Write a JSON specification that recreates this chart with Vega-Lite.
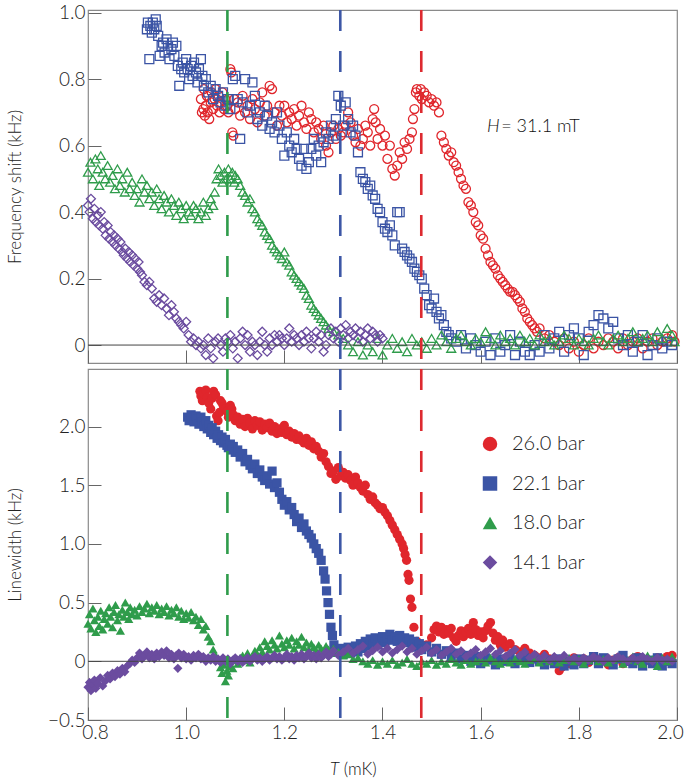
{
"$schema": "https://vega.github.io/schema/vega-lite/v6.json",
"padding": {"left": 5, "top": 3, "right": 2, "bottom": 2},
"background": "white",
"config": {
  "view": {"stroke": "#8a8a8a", "strokeWidth": 1.2},
  "font": "Lato",
  "axis": {"labelFont": "Lato", "titleFont": "Lato", "labelFontSize": 19, "titleFontSize": 17, "labelColor": "#222", "titleColor": "#222", "titleFontWeight": 300, "labelFontWeight": 300, "tickColor": "#666", "tickWidth": 1, "tickSize": -13, "domain": false, "grid": false, "labelPadding": 16},
  "legend": {"labelFont": "Lato"}
},
"spacing": 0,
"resolve": {"legend": {"color": "independent", "shape": "independent"}},
"datasets": {
"freq": [
{"s":"26.0 bar","T":1.030,"v":0.74},{"s":"26.0 bar","T":1.032,"v":0.70},{"s":"26.0 bar","T":1.035,"v":0.71},{"s":"26.0 bar","T":1.036,"v":0.77},{"s":"26.0 bar","T":1.038,"v":0.69},{"s":"26.0 bar","T":1.040,"v":0.72},{"s":"26.0 bar","T":1.042,"v":0.75},{"s":"26.0 bar","T":1.044,"v":0.70},{"s":"26.0 bar","T":1.047,"v":0.68},{"s":"26.0 bar","T":1.050,"v":0.73},{"s":"26.0 bar","T":1.052,"v":0.76},{"s":"26.0 bar","T":1.055,"v":0.71},{"s":"26.0 bar","T":1.058,"v":0.74},{"s":"26.0 bar","T":1.060,"v":0.77},{"s":"26.0 bar","T":1.063,"v":0.72},{"s":"26.0 bar","T":1.066,"v":0.75},{"s":"26.0 bar","T":1.068,"v":0.70},{"s":"26.0 bar","T":1.070,"v":0.73},{"s":"26.0 bar","T":1.074,"v":0.76},{"s":"26.0 bar","T":1.077,"v":0.71},{"s":"26.0 bar","T":1.080,"v":0.74},{"s":"26.0 bar","T":1.083,"v":0.72},{"s":"26.0 bar","T":1.086,"v":0.70},{"s":"26.0 bar","T":1.090,"v":0.83},{"s":"26.0 bar","T":1.092,"v":0.82},{"s":"26.0 bar","T":1.094,"v":0.64},{"s":"26.0 bar","T":1.096,"v":0.63},{"s":"26.0 bar","T":1.098,"v":0.74},{"s":"26.0 bar","T":1.100,"v":0.71},{"s":"26.0 bar","T":1.105,"v":0.73},{"s":"26.0 bar","T":1.110,"v":0.69},{"s":"26.0 bar","T":1.115,"v":0.75},{"s":"26.0 bar","T":1.120,"v":0.70},{"s":"26.0 bar","T":1.125,"v":0.72},{"s":"26.0 bar","T":1.130,"v":0.68},{"s":"26.0 bar","T":1.135,"v":0.74},{"s":"26.0 bar","T":1.140,"v":0.71},{"s":"26.0 bar","T":1.145,"v":0.67},{"s":"26.0 bar","T":1.150,"v":0.73},{"s":"26.0 bar","T":1.155,"v":0.76},{"s":"26.0 bar","T":1.160,"v":0.69},{"s":"26.0 bar","T":1.165,"v":0.72},{"s":"26.0 bar","T":1.170,"v":0.78},{"s":"26.0 bar","T":1.175,"v":0.77},{"s":"26.0 bar","T":1.180,"v":0.70},{"s":"26.0 bar","T":1.185,"v":0.66},{"s":"26.0 bar","T":1.190,"v":0.72},{"s":"26.0 bar","T":1.195,"v":0.69},{"s":"26.0 bar","T":1.200,"v":0.72},{"s":"26.0 bar","T":1.205,"v":0.67},{"s":"26.0 bar","T":1.210,"v":0.70},{"s":"26.0 bar","T":1.215,"v":0.68},{"s":"26.0 bar","T":1.220,"v":0.71},{"s":"26.0 bar","T":1.225,"v":0.66},{"s":"26.0 bar","T":1.230,"v":0.69},{"s":"26.0 bar","T":1.235,"v":0.72},{"s":"26.0 bar","T":1.240,"v":0.67},{"s":"26.0 bar","T":1.245,"v":0.65},{"s":"26.0 bar","T":1.250,"v":0.70},{"s":"26.0 bar","T":1.255,"v":0.68},{"s":"26.0 bar","T":1.260,"v":0.64},{"s":"26.0 bar","T":1.265,"v":0.67},{"s":"26.0 bar","T":1.270,"v":0.65},{"s":"26.0 bar","T":1.275,"v":0.62},{"s":"26.0 bar","T":1.280,"v":0.66},{"s":"26.0 bar","T":1.285,"v":0.60},{"s":"26.0 bar","T":1.290,"v":0.58},{"s":"26.0 bar","T":1.295,"v":0.64},{"s":"26.0 bar","T":1.300,"v":0.66},{"s":"26.0 bar","T":1.305,"v":0.62},{"s":"26.0 bar","T":1.310,"v":0.65},{"s":"26.0 bar","T":1.315,"v":0.63},{"s":"26.0 bar","T":1.320,"v":0.64},{"s":"26.0 bar","T":1.325,"v":0.66},{"s":"26.0 bar","T":1.330,"v":0.70},{"s":"26.0 bar","T":1.335,"v":0.67},{"s":"26.0 bar","T":1.340,"v":0.63},{"s":"26.0 bar","T":1.345,"v":0.61},{"s":"26.0 bar","T":1.350,"v":0.65},{"s":"26.0 bar","T":1.355,"v":0.60},{"s":"26.0 bar","T":1.360,"v":0.62},{"s":"26.0 bar","T":1.365,"v":0.66},{"s":"26.0 bar","T":1.370,"v":0.64},{"s":"26.0 bar","T":1.375,"v":0.60},{"s":"26.0 bar","T":1.380,"v":0.68},{"s":"26.0 bar","T":1.383,"v":0.71},{"s":"26.0 bar","T":1.386,"v":0.67},{"s":"26.0 bar","T":1.390,"v":0.62},{"s":"26.0 bar","T":1.395,"v":0.65},{"s":"26.0 bar","T":1.400,"v":0.60},{"s":"26.0 bar","T":1.405,"v":0.63},{"s":"26.0 bar","T":1.410,"v":0.56},{"s":"26.0 bar","T":1.415,"v":0.60},{"s":"26.0 bar","T":1.420,"v":0.53},{"s":"26.0 bar","T":1.425,"v":0.51},{"s":"26.0 bar","T":1.430,"v":0.54},{"s":"26.0 bar","T":1.435,"v":0.58},{"s":"26.0 bar","T":1.440,"v":0.56},{"s":"26.0 bar","T":1.445,"v":0.61},{"s":"26.0 bar","T":1.450,"v":0.59},{"s":"26.0 bar","T":1.455,"v":0.62},{"s":"26.0 bar","T":1.460,"v":0.64},{"s":"26.0 bar","T":1.462,"v":0.68},{"s":"26.0 bar","T":1.465,"v":0.71},{"s":"26.0 bar","T":1.468,"v":0.76},{"s":"26.0 bar","T":1.470,"v":0.77},{"s":"26.0 bar","T":1.475,"v":0.75},{"s":"26.0 bar","T":1.478,"v":0.77},{"s":"26.0 bar","T":1.480,"v":0.74},{"s":"26.0 bar","T":1.485,"v":0.76},{"s":"26.0 bar","T":1.490,"v":0.75},{"s":"26.0 bar","T":1.495,"v":0.73},{"s":"26.0 bar","T":1.500,"v":0.74},{"s":"26.0 bar","T":1.505,"v":0.72},{"s":"26.0 bar","T":1.510,"v":0.73},{"s":"26.0 bar","T":1.515,"v":0.70},{"s":"26.0 bar","T":1.520,"v":0.63},{"s":"26.0 bar","T":1.525,"v":0.61},{"s":"26.0 bar","T":1.530,"v":0.59},{"s":"26.0 bar","T":1.535,"v":0.57},{"s":"26.0 bar","T":1.540,"v":0.58},{"s":"26.0 bar","T":1.545,"v":0.55},{"s":"26.0 bar","T":1.550,"v":0.54},{"s":"26.0 bar","T":1.555,"v":0.52},{"s":"26.0 bar","T":1.560,"v":0.50},{"s":"26.0 bar","T":1.565,"v":0.48},{"s":"26.0 bar","T":1.570,"v":0.47},{"s":"26.0 bar","T":1.575,"v":0.43},{"s":"26.0 bar","T":1.580,"v":0.42},{"s":"26.0 bar","T":1.585,"v":0.40},{"s":"26.0 bar","T":1.590,"v":0.37},{"s":"26.0 bar","T":1.595,"v":0.36},{"s":"26.0 bar","T":1.600,"v":0.33},{"s":"26.0 bar","T":1.605,"v":0.32},{"s":"26.0 bar","T":1.610,"v":0.29},{"s":"26.0 bar","T":1.615,"v":0.27},{"s":"26.0 bar","T":1.620,"v":0.25},{"s":"26.0 bar","T":1.625,"v":0.24},{"s":"26.0 bar","T":1.630,"v":0.23},{"s":"26.0 bar","T":1.635,"v":0.21},{"s":"26.0 bar","T":1.640,"v":0.20},{"s":"26.0 bar","T":1.645,"v":0.19},{"s":"26.0 bar","T":1.650,"v":0.18},{"s":"26.0 bar","T":1.655,"v":0.17},{"s":"26.0 bar","T":1.660,"v":0.16},{"s":"26.0 bar","T":1.665,"v":0.16},{"s":"26.0 bar","T":1.670,"v":0.15},{"s":"26.0 bar","T":1.675,"v":0.14},{"s":"26.0 bar","T":1.680,"v":0.13},{"s":"26.0 bar","T":1.685,"v":0.11},{"s":"26.0 bar","T":1.690,"v":0.10},{"s":"26.0 bar","T":1.695,"v":0.08},{"s":"26.0 bar","T":1.700,"v":0.07},{"s":"26.0 bar","T":1.705,"v":0.06},{"s":"26.0 bar","T":1.710,"v":0.05},{"s":"26.0 bar","T":1.715,"v":0.04},{"s":"26.0 bar","T":1.720,"v":0.05},{"s":"26.0 bar","T":1.730,"v":0.02},{"s":"26.0 bar","T":1.740,"v":0.03},{"s":"26.0 bar","T":1.750,"v":0.01},{"s":"26.0 bar","T":1.760,"v":0.00},{"s":"26.0 bar","T":1.770,"v":0.02},{"s":"26.0 bar","T":1.780,"v":-0.01},{"s":"26.0 bar","T":1.790,"v":0.01},{"s":"26.0 bar","T":1.800,"v":-0.02},{"s":"26.0 bar","T":1.810,"v":0.00},{"s":"26.0 bar","T":1.820,"v":0.02},{"s":"26.0 bar","T":1.830,"v":-0.01},{"s":"26.0 bar","T":1.840,"v":0.01},{"s":"26.0 bar","T":1.850,"v":0.00},{"s":"26.0 bar","T":1.860,"v":0.02},{"s":"26.0 bar","T":1.870,"v":0.01},{"s":"26.0 bar","T":1.880,"v":-0.01},{"s":"26.0 bar","T":1.890,"v":0.02},{"s":"26.0 bar","T":1.900,"v":0.00},{"s":"26.0 bar","T":1.910,"v":0.01},{"s":"26.0 bar","T":1.920,"v":0.02},{"s":"26.0 bar","T":1.930,"v":-0.01},{"s":"26.0 bar","T":1.940,"v":0.01},{"s":"26.0 bar","T":1.950,"v":0.02},{"s":"26.0 bar","T":1.960,"v":0.00},{"s":"26.0 bar","T":1.970,"v":0.01},{"s":"26.0 bar","T":1.980,"v":0.02},{"s":"26.0 bar","T":1.990,"v":0.03},{"s":"26.0 bar","T":1.995,"v":0.01},
{"s":"22.1 bar","T":0.920,"v":0.95},{"s":"22.1 bar","T":0.922,"v":0.97},{"s":"22.1 bar","T":0.925,"v":0.86},{"s":"22.1 bar","T":0.927,"v":0.96},{"s":"22.1 bar","T":0.930,"v":0.94},{"s":"22.1 bar","T":0.932,"v":0.97},{"s":"22.1 bar","T":0.935,"v":0.95},{"s":"22.1 bar","T":0.938,"v":0.98},{"s":"22.1 bar","T":0.940,"v":0.96},{"s":"22.1 bar","T":0.943,"v":0.93},{"s":"22.1 bar","T":0.946,"v":0.87},{"s":"22.1 bar","T":0.950,"v":0.90},{"s":"22.1 bar","T":0.953,"v":0.91},{"s":"22.1 bar","T":0.956,"v":0.88},{"s":"22.1 bar","T":0.960,"v":0.92},{"s":"22.1 bar","T":0.963,"v":0.90},{"s":"22.1 bar","T":0.966,"v":0.86},{"s":"22.1 bar","T":0.970,"v":0.89},{"s":"22.1 bar","T":0.973,"v":0.91},{"s":"22.1 bar","T":0.976,"v":0.87},{"s":"22.1 bar","T":0.980,"v":0.90},{"s":"22.1 bar","T":0.983,"v":0.84},{"s":"22.1 bar","T":0.986,"v":0.78},{"s":"22.1 bar","T":0.990,"v":0.83},{"s":"22.1 bar","T":0.993,"v":0.85},{"s":"22.1 bar","T":0.996,"v":0.82},{"s":"22.1 bar","T":1.000,"v":0.86},{"s":"22.1 bar","T":1.003,"v":0.83},{"s":"22.1 bar","T":1.006,"v":0.80},{"s":"22.1 bar","T":1.010,"v":0.84},{"s":"22.1 bar","T":1.013,"v":0.81},{"s":"22.1 bar","T":1.016,"v":0.85},{"s":"22.1 bar","T":1.020,"v":0.82},{"s":"22.1 bar","T":1.023,"v":0.79},{"s":"22.1 bar","T":1.026,"v":0.83},{"s":"22.1 bar","T":1.030,"v":0.86},{"s":"22.1 bar","T":1.033,"v":0.81},{"s":"22.1 bar","T":1.036,"v":0.78},{"s":"22.1 bar","T":1.040,"v":0.80},{"s":"22.1 bar","T":1.045,"v":0.76},{"s":"22.1 bar","T":1.050,"v":0.78},{"s":"22.1 bar","T":1.055,"v":0.74},{"s":"22.1 bar","T":1.060,"v":0.77},{"s":"22.1 bar","T":1.065,"v":0.75},{"s":"22.1 bar","T":1.070,"v":0.73},{"s":"22.1 bar","T":1.075,"v":0.76},{"s":"22.1 bar","T":1.080,"v":0.72},{"s":"22.1 bar","T":1.085,"v":0.74},{"s":"22.1 bar","T":1.090,"v":0.71},{"s":"22.1 bar","T":1.095,"v":0.80},{"s":"22.1 bar","T":1.100,"v":0.81},{"s":"22.1 bar","T":1.105,"v":0.74},{"s":"22.1 bar","T":1.110,"v":0.62},{"s":"22.1 bar","T":1.115,"v":0.73},{"s":"22.1 bar","T":1.120,"v":0.80},{"s":"22.1 bar","T":1.125,"v":0.70},{"s":"22.1 bar","T":1.130,"v":0.72},{"s":"22.1 bar","T":1.135,"v":0.79},{"s":"22.1 bar","T":1.140,"v":0.75},{"s":"22.1 bar","T":1.145,"v":0.68},{"s":"22.1 bar","T":1.150,"v":0.70},{"s":"22.1 bar","T":1.155,"v":0.66},{"s":"22.1 bar","T":1.160,"v":0.72},{"s":"22.1 bar","T":1.165,"v":0.69},{"s":"22.1 bar","T":1.170,"v":0.65},{"s":"22.1 bar","T":1.175,"v":0.67},{"s":"22.1 bar","T":1.180,"v":0.64},{"s":"22.1 bar","T":1.185,"v":0.70},{"s":"22.1 bar","T":1.190,"v":0.66},{"s":"22.1 bar","T":1.195,"v":0.62},{"s":"22.1 bar","T":1.200,"v":0.57},{"s":"22.1 bar","T":1.205,"v":0.64},{"s":"22.1 bar","T":1.210,"v":0.60},{"s":"22.1 bar","T":1.215,"v":0.58},{"s":"22.1 bar","T":1.220,"v":0.62},{"s":"22.1 bar","T":1.225,"v":0.59},{"s":"22.1 bar","T":1.230,"v":0.56},{"s":"22.1 bar","T":1.235,"v":0.54},{"s":"22.1 bar","T":1.240,"v":0.59},{"s":"22.1 bar","T":1.245,"v":0.53},{"s":"22.1 bar","T":1.250,"v":0.55},{"s":"22.1 bar","T":1.255,"v":0.59},{"s":"22.1 bar","T":1.260,"v":0.62},{"s":"22.1 bar","T":1.265,"v":0.57},{"s":"22.1 bar","T":1.270,"v":0.60},{"s":"22.1 bar","T":1.275,"v":0.55},{"s":"22.1 bar","T":1.280,"v":0.61},{"s":"22.1 bar","T":1.285,"v":0.64},{"s":"22.1 bar","T":1.290,"v":0.62},{"s":"22.1 bar","T":1.295,"v":0.66},{"s":"22.1 bar","T":1.300,"v":0.63},{"s":"22.1 bar","T":1.305,"v":0.68},{"s":"22.1 bar","T":1.310,"v":0.75},{"s":"22.1 bar","T":1.315,"v":0.72},{"s":"22.1 bar","T":1.320,"v":0.66},{"s":"22.1 bar","T":1.325,"v":0.73},{"s":"22.1 bar","T":1.330,"v":0.68},{"s":"22.1 bar","T":1.335,"v":0.64},{"s":"22.1 bar","T":1.340,"v":0.66},{"s":"22.1 bar","T":1.345,"v":0.63},{"s":"22.1 bar","T":1.350,"v":0.58},{"s":"22.1 bar","T":1.355,"v":0.52},{"s":"22.1 bar","T":1.360,"v":0.50},{"s":"22.1 bar","T":1.365,"v":0.49},{"s":"22.1 bar","T":1.370,"v":0.47},{"s":"22.1 bar","T":1.375,"v":0.48},{"s":"22.1 bar","T":1.380,"v":0.45},{"s":"22.1 bar","T":1.385,"v":0.44},{"s":"22.1 bar","T":1.390,"v":0.41},{"s":"22.1 bar","T":1.395,"v":0.40},{"s":"22.1 bar","T":1.400,"v":0.37},{"s":"22.1 bar","T":1.405,"v":0.35},{"s":"22.1 bar","T":1.410,"v":0.34},{"s":"22.1 bar","T":1.415,"v":0.36},{"s":"22.1 bar","T":1.420,"v":0.33},{"s":"22.1 bar","T":1.425,"v":0.30},{"s":"22.1 bar","T":1.430,"v":0.40},{"s":"22.1 bar","T":1.435,"v":0.40},{"s":"22.1 bar","T":1.440,"v":0.29},{"s":"22.1 bar","T":1.445,"v":0.28},{"s":"22.1 bar","T":1.450,"v":0.27},{"s":"22.1 bar","T":1.455,"v":0.26},{"s":"22.1 bar","T":1.460,"v":0.25},{"s":"22.1 bar","T":1.465,"v":0.23},{"s":"22.1 bar","T":1.470,"v":0.22},{"s":"22.1 bar","T":1.475,"v":0.21},{"s":"22.1 bar","T":1.480,"v":0.20},{"s":"22.1 bar","T":1.485,"v":0.17},{"s":"22.1 bar","T":1.490,"v":0.15},{"s":"22.1 bar","T":1.495,"v":0.12},{"s":"22.1 bar","T":1.500,"v":0.11},{"s":"22.1 bar","T":1.505,"v":0.14},{"s":"22.1 bar","T":1.510,"v":0.10},{"s":"22.1 bar","T":1.515,"v":0.08},{"s":"22.1 bar","T":1.520,"v":0.09},{"s":"22.1 bar","T":1.525,"v":0.06},{"s":"22.1 bar","T":1.530,"v":0.04},{"s":"22.1 bar","T":1.535,"v":0.03},{"s":"22.1 bar","T":1.540,"v":0.02},{"s":"22.1 bar","T":1.550,"v":0.01},{"s":"22.1 bar","T":1.560,"v":0.03},{"s":"22.1 bar","T":1.570,"v":-0.01},{"s":"22.1 bar","T":1.580,"v":0.02},{"s":"22.1 bar","T":1.590,"v":0.00},{"s":"22.1 bar","T":1.600,"v":-0.02},{"s":"22.1 bar","T":1.610,"v":0.01},{"s":"22.1 bar","T":1.620,"v":-0.03},{"s":"22.1 bar","T":1.630,"v":0.02},{"s":"22.1 bar","T":1.640,"v":-0.02},{"s":"22.1 bar","T":1.650,"v":0.00},{"s":"22.1 bar","T":1.660,"v":0.03},{"s":"22.1 bar","T":1.670,"v":-0.03},{"s":"22.1 bar","T":1.680,"v":0.01},{"s":"22.1 bar","T":1.690,"v":-0.02},{"s":"22.1 bar","T":1.700,"v":-0.03},{"s":"22.1 bar","T":1.710,"v":0.00},{"s":"22.1 bar","T":1.720,"v":-0.02},{"s":"22.1 bar","T":1.730,"v":0.03},{"s":"22.1 bar","T":1.740,"v":-0.01},{"s":"22.1 bar","T":1.750,"v":0.02},{"s":"22.1 bar","T":1.760,"v":0.04},{"s":"22.1 bar","T":1.770,"v":-0.02},{"s":"22.1 bar","T":1.780,"v":0.03},{"s":"22.1 bar","T":1.790,"v":0.05},{"s":"22.1 bar","T":1.800,"v":0.02},{"s":"22.1 bar","T":1.810,"v":-0.03},{"s":"22.1 bar","T":1.820,"v":0.04},{"s":"22.1 bar","T":1.830,"v":0.06},{"s":"22.1 bar","T":1.840,"v":0.09},{"s":"22.1 bar","T":1.850,"v":0.08},{"s":"22.1 bar","T":1.860,"v":0.05},{"s":"22.1 bar","T":1.870,"v":0.07},{"s":"22.1 bar","T":1.880,"v":0.02},{"s":"22.1 bar","T":1.890,"v":0.00},{"s":"22.1 bar","T":1.900,"v":0.03},{"s":"22.1 bar","T":1.910,"v":-0.02},{"s":"22.1 bar","T":1.920,"v":0.01},{"s":"22.1 bar","T":1.930,"v":0.03},{"s":"22.1 bar","T":1.940,"v":-0.03},{"s":"22.1 bar","T":1.950,"v":0.00},{"s":"22.1 bar","T":1.960,"v":0.02},{"s":"22.1 bar","T":1.970,"v":-0.01},{"s":"22.1 bar","T":1.980,"v":0.01},{"s":"22.1 bar","T":1.990,"v":0.00},
{"s":"18.0 bar","T":0.800,"v":0.52},{"s":"18.0 bar","T":0.805,"v":0.55},{"s":"18.0 bar","T":0.810,"v":0.50},{"s":"18.0 bar","T":0.815,"v":0.56},{"s":"18.0 bar","T":0.820,"v":0.53},{"s":"18.0 bar","T":0.823,"v":0.48},{"s":"18.0 bar","T":0.826,"v":0.57},{"s":"18.0 bar","T":0.830,"v":0.52},{"s":"18.0 bar","T":0.835,"v":0.50},{"s":"18.0 bar","T":0.840,"v":0.54},{"s":"18.0 bar","T":0.845,"v":0.49},{"s":"18.0 bar","T":0.850,"v":0.51},{"s":"18.0 bar","T":0.855,"v":0.47},{"s":"18.0 bar","T":0.860,"v":0.53},{"s":"18.0 bar","T":0.865,"v":0.48},{"s":"18.0 bar","T":0.870,"v":0.50},{"s":"18.0 bar","T":0.875,"v":0.46},{"s":"18.0 bar","T":0.880,"v":0.52},{"s":"18.0 bar","T":0.885,"v":0.47},{"s":"18.0 bar","T":0.890,"v":0.49},{"s":"18.0 bar","T":0.895,"v":0.45},{"s":"18.0 bar","T":0.900,"v":0.47},{"s":"18.0 bar","T":0.905,"v":0.43},{"s":"18.0 bar","T":0.910,"v":0.50},{"s":"18.0 bar","T":0.915,"v":0.46},{"s":"18.0 bar","T":0.920,"v":0.48},{"s":"18.0 bar","T":0.925,"v":0.44},{"s":"18.0 bar","T":0.930,"v":0.46},{"s":"18.0 bar","T":0.935,"v":0.42},{"s":"18.0 bar","T":0.940,"v":0.47},{"s":"18.0 bar","T":0.945,"v":0.44},{"s":"18.0 bar","T":0.950,"v":0.41},{"s":"18.0 bar","T":0.955,"v":0.45},{"s":"18.0 bar","T":0.960,"v":0.43},{"s":"18.0 bar","T":0.965,"v":0.40},{"s":"18.0 bar","T":0.970,"v":0.44},{"s":"18.0 bar","T":0.975,"v":0.42},{"s":"18.0 bar","T":0.980,"v":0.39},{"s":"18.0 bar","T":0.985,"v":0.43},{"s":"18.0 bar","T":0.990,"v":0.41},{"s":"18.0 bar","T":0.995,"v":0.38},{"s":"18.0 bar","T":1.000,"v":0.42},{"s":"18.0 bar","T":1.005,"v":0.40},{"s":"18.0 bar","T":1.010,"v":0.39},{"s":"18.0 bar","T":1.015,"v":0.42},{"s":"18.0 bar","T":1.020,"v":0.41},{"s":"18.0 bar","T":1.025,"v":0.38},{"s":"18.0 bar","T":1.030,"v":0.40},{"s":"18.0 bar","T":1.035,"v":0.43},{"s":"18.0 bar","T":1.040,"v":0.39},{"s":"18.0 bar","T":1.045,"v":0.41},{"s":"18.0 bar","T":1.050,"v":0.44},{"s":"18.0 bar","T":1.055,"v":0.42},{"s":"18.0 bar","T":1.058,"v":0.46},{"s":"18.0 bar","T":1.062,"v":0.50},{"s":"18.0 bar","T":1.066,"v":0.53},{"s":"18.0 bar","T":1.070,"v":0.51},{"s":"18.0 bar","T":1.074,"v":0.49},{"s":"18.0 bar","T":1.078,"v":0.52},{"s":"18.0 bar","T":1.082,"v":0.50},{"s":"18.0 bar","T":1.086,"v":0.53},{"s":"18.0 bar","T":1.090,"v":0.50},{"s":"18.0 bar","T":1.094,"v":0.52},{"s":"18.0 bar","T":1.098,"v":0.49},{"s":"18.0 bar","T":1.100,"v":0.51},{"s":"18.0 bar","T":1.105,"v":0.50},{"s":"18.0 bar","T":1.110,"v":0.48},{"s":"18.0 bar","T":1.115,"v":0.46},{"s":"18.0 bar","T":1.120,"v":0.45},{"s":"18.0 bar","T":1.125,"v":0.43},{"s":"18.0 bar","T":1.130,"v":0.44},{"s":"18.0 bar","T":1.135,"v":0.41},{"s":"18.0 bar","T":1.140,"v":0.40},{"s":"18.0 bar","T":1.145,"v":0.38},{"s":"18.0 bar","T":1.150,"v":0.37},{"s":"18.0 bar","T":1.155,"v":0.36},{"s":"18.0 bar","T":1.160,"v":0.34},{"s":"18.0 bar","T":1.165,"v":0.33},{"s":"18.0 bar","T":1.170,"v":0.32},{"s":"18.0 bar","T":1.175,"v":0.30},{"s":"18.0 bar","T":1.180,"v":0.29},{"s":"18.0 bar","T":1.185,"v":0.28},{"s":"18.0 bar","T":1.190,"v":0.27},{"s":"18.0 bar","T":1.195,"v":0.26},{"s":"18.0 bar","T":1.200,"v":0.28},{"s":"18.0 bar","T":1.205,"v":0.25},{"s":"18.0 bar","T":1.210,"v":0.24},{"s":"18.0 bar","T":1.215,"v":0.22},{"s":"18.0 bar","T":1.220,"v":0.21},{"s":"18.0 bar","T":1.225,"v":0.20},{"s":"18.0 bar","T":1.230,"v":0.19},{"s":"18.0 bar","T":1.235,"v":0.18},{"s":"18.0 bar","T":1.240,"v":0.17},{"s":"18.0 bar","T":1.245,"v":0.15},{"s":"18.0 bar","T":1.250,"v":0.14},{"s":"18.0 bar","T":1.255,"v":0.12},{"s":"18.0 bar","T":1.260,"v":0.11},{"s":"18.0 bar","T":1.265,"v":0.10},{"s":"18.0 bar","T":1.270,"v":0.09},{"s":"18.0 bar","T":1.275,"v":0.08},{"s":"18.0 bar","T":1.280,"v":0.07},{"s":"18.0 bar","T":1.285,"v":0.06},{"s":"18.0 bar","T":1.290,"v":0.05},{"s":"18.0 bar","T":1.300,"v":0.04},{"s":"18.0 bar","T":1.310,"v":0.03},{"s":"18.0 bar","T":1.320,"v":0.02},{"s":"18.0 bar","T":1.330,"v":0.00},{"s":"18.0 bar","T":1.340,"v":-0.02},{"s":"18.0 bar","T":1.350,"v":0.01},{"s":"18.0 bar","T":1.360,"v":-0.03},{"s":"18.0 bar","T":1.370,"v":0.00},{"s":"18.0 bar","T":1.380,"v":-0.02},{"s":"18.0 bar","T":1.390,"v":0.02},{"s":"18.0 bar","T":1.400,"v":-0.03},{"s":"18.0 bar","T":1.410,"v":0.00},{"s":"18.0 bar","T":1.420,"v":0.02},{"s":"18.0 bar","T":1.430,"v":-0.01},{"s":"18.0 bar","T":1.440,"v":0.01},{"s":"18.0 bar","T":1.450,"v":-0.02},{"s":"18.0 bar","T":1.460,"v":0.02},{"s":"18.0 bar","T":1.470,"v":0.00},{"s":"18.0 bar","T":1.480,"v":0.01},{"s":"18.0 bar","T":1.490,"v":-0.01},{"s":"18.0 bar","T":1.500,"v":0.02},{"s":"18.0 bar","T":1.510,"v":0.00},{"s":"18.0 bar","T":1.520,"v":0.03},{"s":"18.0 bar","T":1.530,"v":0.01},{"s":"18.0 bar","T":1.540,"v":-0.01},{"s":"18.0 bar","T":1.550,"v":0.02},{"s":"18.0 bar","T":1.560,"v":0.03},{"s":"18.0 bar","T":1.570,"v":0.01},{"s":"18.0 bar","T":1.580,"v":0.00},{"s":"18.0 bar","T":1.590,"v":0.02},{"s":"18.0 bar","T":1.600,"v":0.01},{"s":"18.0 bar","T":1.610,"v":0.04},{"s":"18.0 bar","T":1.620,"v":0.02},{"s":"18.0 bar","T":1.630,"v":0.00},{"s":"18.0 bar","T":1.640,"v":0.03},{"s":"18.0 bar","T":1.650,"v":0.01},{"s":"18.0 bar","T":1.660,"v":0.02},{"s":"18.0 bar","T":1.670,"v":0.00},{"s":"18.0 bar","T":1.680,"v":0.03},{"s":"18.0 bar","T":1.690,"v":0.01},{"s":"18.0 bar","T":1.700,"v":0.02},{"s":"18.0 bar","T":1.710,"v":0.00},{"s":"18.0 bar","T":1.720,"v":0.03},{"s":"18.0 bar","T":1.730,"v":0.01},{"s":"18.0 bar","T":1.740,"v":0.02},{"s":"18.0 bar","T":1.750,"v":0.00},{"s":"18.0 bar","T":1.760,"v":0.01},{"s":"18.0 bar","T":1.770,"v":0.03},{"s":"18.0 bar","T":1.780,"v":0.02},{"s":"18.0 bar","T":1.790,"v":0.00},{"s":"18.0 bar","T":1.800,"v":0.02},{"s":"18.0 bar","T":1.810,"v":0.01},{"s":"18.0 bar","T":1.820,"v":0.00},{"s":"18.0 bar","T":1.830,"v":0.02},{"s":"18.0 bar","T":1.840,"v":0.03},{"s":"18.0 bar","T":1.850,"v":0.01},{"s":"18.0 bar","T":1.860,"v":0.00},{"s":"18.0 bar","T":1.870,"v":0.02},{"s":"18.0 bar","T":1.880,"v":0.03},{"s":"18.0 bar","T":1.890,"v":0.01},{"s":"18.0 bar","T":1.900,"v":0.02},{"s":"18.0 bar","T":1.910,"v":0.04},{"s":"18.0 bar","T":1.920,"v":0.01},{"s":"18.0 bar","T":1.930,"v":0.02},{"s":"18.0 bar","T":1.940,"v":0.03},{"s":"18.0 bar","T":1.950,"v":0.01},{"s":"18.0 bar","T":1.960,"v":0.04},{"s":"18.0 bar","T":1.970,"v":0.02},{"s":"18.0 bar","T":1.980,"v":0.05},{"s":"18.0 bar","T":1.990,"v":0.03},{"s":"18.0 bar","T":1.995,"v":0.01},
{"s":"14.1 bar","T":0.800,"v":0.42},{"s":"14.1 bar","T":0.803,"v":0.40},{"s":"14.1 bar","T":0.806,"v":0.44},{"s":"14.1 bar","T":0.810,"v":0.38},{"s":"14.1 bar","T":0.813,"v":0.41},{"s":"14.1 bar","T":0.816,"v":0.37},{"s":"14.1 bar","T":0.820,"v":0.39},{"s":"14.1 bar","T":0.823,"v":0.36},{"s":"14.1 bar","T":0.826,"v":0.40},{"s":"14.1 bar","T":0.830,"v":0.35},{"s":"14.1 bar","T":0.833,"v":0.37},{"s":"14.1 bar","T":0.836,"v":0.33},{"s":"14.1 bar","T":0.840,"v":0.36},{"s":"14.1 bar","T":0.843,"v":0.32},{"s":"14.1 bar","T":0.846,"v":0.34},{"s":"14.1 bar","T":0.850,"v":0.31},{"s":"14.1 bar","T":0.853,"v":0.33},{"s":"14.1 bar","T":0.856,"v":0.30},{"s":"14.1 bar","T":0.860,"v":0.32},{"s":"14.1 bar","T":0.863,"v":0.29},{"s":"14.1 bar","T":0.866,"v":0.31},{"s":"14.1 bar","T":0.870,"v":0.28},{"s":"14.1 bar","T":0.873,"v":0.27},{"s":"14.1 bar","T":0.876,"v":0.29},{"s":"14.1 bar","T":0.880,"v":0.26},{"s":"14.1 bar","T":0.883,"v":0.28},{"s":"14.1 bar","T":0.886,"v":0.25},{"s":"14.1 bar","T":0.890,"v":0.27},{"s":"14.1 bar","T":0.893,"v":0.24},{"s":"14.1 bar","T":0.896,"v":0.26},{"s":"14.1 bar","T":0.900,"v":0.23},{"s":"14.1 bar","T":0.903,"v":0.25},{"s":"14.1 bar","T":0.906,"v":0.22},{"s":"14.1 bar","T":0.910,"v":0.21},{"s":"14.1 bar","T":0.915,"v":0.19},{"s":"14.1 bar","T":0.920,"v":0.18},{"s":"14.1 bar","T":0.925,"v":0.19},{"s":"14.1 bar","T":0.930,"v":0.17},{"s":"14.1 bar","T":0.935,"v":0.14},{"s":"14.1 bar","T":0.940,"v":0.13},{"s":"14.1 bar","T":0.945,"v":0.15},{"s":"14.1 bar","T":0.950,"v":0.12},{"s":"14.1 bar","T":0.955,"v":0.14},{"s":"14.1 bar","T":0.960,"v":0.11},{"s":"14.1 bar","T":0.965,"v":0.09},{"s":"14.1 bar","T":0.970,"v":0.12},{"s":"14.1 bar","T":0.975,"v":0.10},{"s":"14.1 bar","T":0.980,"v":0.08},{"s":"14.1 bar","T":0.985,"v":0.07},{"s":"14.1 bar","T":0.990,"v":0.06},{"s":"14.1 bar","T":0.995,"v":0.05},{"s":"14.1 bar","T":1.000,"v":0.07},{"s":"14.1 bar","T":1.005,"v":0.03},{"s":"14.1 bar","T":1.010,"v":0.01},{"s":"14.1 bar","T":1.015,"v":0.02},{"s":"14.1 bar","T":1.020,"v":0.00},{"s":"14.1 bar","T":1.025,"v":0.01},{"s":"14.1 bar","T":1.030,"v":-0.01},{"s":"14.1 bar","T":1.035,"v":0.00},{"s":"14.1 bar","T":1.040,"v":-0.03},{"s":"14.1 bar","T":1.045,"v":0.02},{"s":"14.1 bar","T":1.050,"v":-0.01},{"s":"14.1 bar","T":1.055,"v":-0.04},{"s":"14.1 bar","T":1.060,"v":0.01},{"s":"14.1 bar","T":1.065,"v":0.02},{"s":"14.1 bar","T":1.070,"v":0.00},{"s":"14.1 bar","T":1.075,"v":-0.02},{"s":"14.1 bar","T":1.080,"v":0.02},{"s":"14.1 bar","T":1.085,"v":0.01},{"s":"14.1 bar","T":1.090,"v":0.03},{"s":"14.1 bar","T":1.095,"v":-0.01},{"s":"14.1 bar","T":1.100,"v":0.01},{"s":"14.1 bar","T":1.105,"v":-0.04},{"s":"14.1 bar","T":1.110,"v":0.02},{"s":"14.1 bar","T":1.115,"v":0.04},{"s":"14.1 bar","T":1.120,"v":0.00},{"s":"14.1 bar","T":1.125,"v":0.03},{"s":"14.1 bar","T":1.130,"v":-0.02},{"s":"14.1 bar","T":1.135,"v":0.01},{"s":"14.1 bar","T":1.140,"v":0.00},{"s":"14.1 bar","T":1.145,"v":-0.03},{"s":"14.1 bar","T":1.150,"v":0.01},{"s":"14.1 bar","T":1.155,"v":0.04},{"s":"14.1 bar","T":1.160,"v":0.00},{"s":"14.1 bar","T":1.165,"v":-0.02},{"s":"14.1 bar","T":1.170,"v":0.02},{"s":"14.1 bar","T":1.175,"v":0.00},{"s":"14.1 bar","T":1.180,"v":0.03},{"s":"14.1 bar","T":1.185,"v":0.01},{"s":"14.1 bar","T":1.190,"v":0.03},{"s":"14.1 bar","T":1.195,"v":0.02},{"s":"14.1 bar","T":1.200,"v":0.00},{"s":"14.1 bar","T":1.205,"v":0.02},{"s":"14.1 bar","T":1.210,"v":0.05},{"s":"14.1 bar","T":1.215,"v":0.01},{"s":"14.1 bar","T":1.220,"v":0.03},{"s":"14.1 bar","T":1.225,"v":0.02},{"s":"14.1 bar","T":1.230,"v":0.00},{"s":"14.1 bar","T":1.235,"v":0.03},{"s":"14.1 bar","T":1.240,"v":0.01},{"s":"14.1 bar","T":1.245,"v":0.04},{"s":"14.1 bar","T":1.250,"v":0.02},{"s":"14.1 bar","T":1.255,"v":-0.01},{"s":"14.1 bar","T":1.260,"v":0.02},{"s":"14.1 bar","T":1.265,"v":0.04},{"s":"14.1 bar","T":1.270,"v":0.01},{"s":"14.1 bar","T":1.275,"v":0.03},{"s":"14.1 bar","T":1.280,"v":-0.02},{"s":"14.1 bar","T":1.285,"v":0.00},{"s":"14.1 bar","T":1.290,"v":0.03},{"s":"14.1 bar","T":1.295,"v":0.05},{"s":"14.1 bar","T":1.300,"v":0.02},{"s":"14.1 bar","T":1.305,"v":0.04},{"s":"14.1 bar","T":1.310,"v":0.01},{"s":"14.1 bar","T":1.315,"v":0.05},{"s":"14.1 bar","T":1.320,"v":0.03},{"s":"14.1 bar","T":1.325,"v":0.06},{"s":"14.1 bar","T":1.330,"v":0.02},{"s":"14.1 bar","T":1.335,"v":0.04},{"s":"14.1 bar","T":1.340,"v":0.03},{"s":"14.1 bar","T":1.345,"v":0.05},{"s":"14.1 bar","T":1.350,"v":0.02},{"s":"14.1 bar","T":1.355,"v":0.04},{"s":"14.1 bar","T":1.360,"v":0.01},{"s":"14.1 bar","T":1.365,"v":0.03},{"s":"14.1 bar","T":1.370,"v":0.05},{"s":"14.1 bar","T":1.375,"v":0.02},{"s":"14.1 bar","T":1.380,"v":0.04},{"s":"14.1 bar","T":1.385,"v":0.03},{"s":"14.1 bar","T":1.390,"v":0.01},{"s":"14.1 bar","T":1.395,"v":0.03},{"s":"14.1 bar","T":1.400,"v":0.02}
],
"width": [
{"s":"26.0 bar","T":1.028,"v":2.30},{"s":"26.0 bar","T":1.030,"v":2.26},{"s":"26.0 bar","T":1.033,"v":2.22},{"s":"26.0 bar","T":1.036,"v":2.28},{"s":"26.0 bar","T":1.040,"v":2.31},{"s":"26.0 bar","T":1.043,"v":2.25},{"s":"26.0 bar","T":1.046,"v":2.20},{"s":"26.0 bar","T":1.050,"v":2.15},{"s":"26.0 bar","T":1.053,"v":2.24},{"s":"26.0 bar","T":1.056,"v":2.30},{"s":"26.0 bar","T":1.060,"v":2.27},{"s":"26.0 bar","T":1.062,"v":2.09},{"s":"26.0 bar","T":1.065,"v":2.05},{"s":"26.0 bar","T":1.068,"v":2.12},{"s":"26.0 bar","T":1.070,"v":2.22},{"s":"26.0 bar","T":1.073,"v":2.20},{"s":"26.0 bar","T":1.076,"v":2.17},{"s":"26.0 bar","T":1.080,"v":2.15},{"s":"26.0 bar","T":1.083,"v":2.13},{"s":"26.0 bar","T":1.086,"v":2.08},{"s":"26.0 bar","T":1.090,"v":2.18},{"s":"26.0 bar","T":1.093,"v":2.15},{"s":"26.0 bar","T":1.096,"v":2.10},{"s":"26.0 bar","T":1.100,"v":2.05},{"s":"26.0 bar","T":1.105,"v":2.08},{"s":"26.0 bar","T":1.110,"v":2.02},{"s":"26.0 bar","T":1.115,"v":2.06},{"s":"26.0 bar","T":1.120,"v":2.00},{"s":"26.0 bar","T":1.125,"v":2.07},{"s":"26.0 bar","T":1.130,"v":2.03},{"s":"26.0 bar","T":1.135,"v":1.98},{"s":"26.0 bar","T":1.140,"v":2.05},{"s":"26.0 bar","T":1.145,"v":2.01},{"s":"26.0 bar","T":1.150,"v":2.04},{"s":"26.0 bar","T":1.155,"v":1.97},{"s":"26.0 bar","T":1.160,"v":2.02},{"s":"26.0 bar","T":1.165,"v":1.99},{"s":"26.0 bar","T":1.170,"v":2.03},{"s":"26.0 bar","T":1.175,"v":1.96},{"s":"26.0 bar","T":1.180,"v":2.00},{"s":"26.0 bar","T":1.185,"v":1.94},{"s":"26.0 bar","T":1.190,"v":1.98},{"s":"26.0 bar","T":1.195,"v":1.95},{"s":"26.0 bar","T":1.200,"v":2.01},{"s":"26.0 bar","T":1.205,"v":1.93},{"s":"26.0 bar","T":1.210,"v":1.96},{"s":"26.0 bar","T":1.215,"v":1.91},{"s":"26.0 bar","T":1.220,"v":1.94},{"s":"26.0 bar","T":1.225,"v":1.89},{"s":"26.0 bar","T":1.230,"v":1.92},{"s":"26.0 bar","T":1.235,"v":1.88},{"s":"26.0 bar","T":1.240,"v":1.86},{"s":"26.0 bar","T":1.245,"v":1.90},{"s":"26.0 bar","T":1.250,"v":1.84},{"s":"26.0 bar","T":1.255,"v":1.87},{"s":"26.0 bar","T":1.260,"v":1.81},{"s":"26.0 bar","T":1.265,"v":1.83},{"s":"26.0 bar","T":1.270,"v":1.79},{"s":"26.0 bar","T":1.275,"v":1.74},{"s":"26.0 bar","T":1.280,"v":1.77},{"s":"26.0 bar","T":1.285,"v":1.70},{"s":"26.0 bar","T":1.290,"v":1.66},{"s":"26.0 bar","T":1.295,"v":1.60},{"s":"26.0 bar","T":1.300,"v":1.62},{"s":"26.0 bar","T":1.305,"v":1.55},{"s":"26.0 bar","T":1.310,"v":1.65},{"s":"26.0 bar","T":1.315,"v":1.58},{"s":"26.0 bar","T":1.320,"v":1.61},{"s":"26.0 bar","T":1.325,"v":1.56},{"s":"26.0 bar","T":1.330,"v":1.59},{"s":"26.0 bar","T":1.335,"v":1.54},{"s":"26.0 bar","T":1.340,"v":1.50},{"s":"26.0 bar","T":1.345,"v":1.57},{"s":"26.0 bar","T":1.350,"v":1.52},{"s":"26.0 bar","T":1.355,"v":1.48},{"s":"26.0 bar","T":1.360,"v":1.45},{"s":"26.0 bar","T":1.365,"v":1.50},{"s":"26.0 bar","T":1.370,"v":1.42},{"s":"26.0 bar","T":1.375,"v":1.38},{"s":"26.0 bar","T":1.380,"v":1.40},{"s":"26.0 bar","T":1.385,"v":1.35},{"s":"26.0 bar","T":1.390,"v":1.33},{"s":"26.0 bar","T":1.395,"v":1.30},{"s":"26.0 bar","T":1.400,"v":1.31},{"s":"26.0 bar","T":1.405,"v":1.27},{"s":"26.0 bar","T":1.410,"v":1.24},{"s":"26.0 bar","T":1.415,"v":1.20},{"s":"26.0 bar","T":1.420,"v":1.16},{"s":"26.0 bar","T":1.425,"v":1.12},{"s":"26.0 bar","T":1.430,"v":1.08},{"s":"26.0 bar","T":1.435,"v":1.04},{"s":"26.0 bar","T":1.440,"v":1.00},{"s":"26.0 bar","T":1.443,"v":0.96},{"s":"26.0 bar","T":1.446,"v":0.91},{"s":"26.0 bar","T":1.449,"v":0.86},{"s":"26.0 bar","T":1.452,"v":0.74},{"s":"26.0 bar","T":1.454,"v":0.69},{"s":"26.0 bar","T":1.457,"v":0.53},{"s":"26.0 bar","T":1.460,"v":0.46},{"s":"26.0 bar","T":1.464,"v":0.29},{"s":"26.0 bar","T":1.470,"v":0.17},{"s":"26.0 bar","T":1.480,"v":0.12},{"s":"26.0 bar","T":1.490,"v":0.14},{"s":"26.0 bar","T":1.500,"v":0.20},{"s":"26.0 bar","T":1.505,"v":0.27},{"s":"26.0 bar","T":1.510,"v":0.30},{"s":"26.0 bar","T":1.515,"v":0.25},{"s":"26.0 bar","T":1.520,"v":0.29},{"s":"26.0 bar","T":1.525,"v":0.23},{"s":"26.0 bar","T":1.530,"v":0.27},{"s":"26.0 bar","T":1.535,"v":0.24},{"s":"26.0 bar","T":1.540,"v":0.28},{"s":"26.0 bar","T":1.545,"v":0.20},{"s":"26.0 bar","T":1.550,"v":0.17},{"s":"26.0 bar","T":1.555,"v":0.22},{"s":"26.0 bar","T":1.560,"v":0.26},{"s":"26.0 bar","T":1.565,"v":0.21},{"s":"26.0 bar","T":1.570,"v":0.25},{"s":"26.0 bar","T":1.575,"v":0.28},{"s":"26.0 bar","T":1.580,"v":0.23},{"s":"26.0 bar","T":1.585,"v":0.33},{"s":"26.0 bar","T":1.590,"v":0.27},{"s":"26.0 bar","T":1.595,"v":0.22},{"s":"26.0 bar","T":1.600,"v":0.25},{"s":"26.0 bar","T":1.605,"v":0.20},{"s":"26.0 bar","T":1.610,"v":0.26},{"s":"26.0 bar","T":1.615,"v":0.30},{"s":"26.0 bar","T":1.620,"v":0.33},{"s":"26.0 bar","T":1.625,"v":0.24},{"s":"26.0 bar","T":1.630,"v":0.18},{"s":"26.0 bar","T":1.635,"v":0.21},{"s":"26.0 bar","T":1.640,"v":0.14},{"s":"26.0 bar","T":1.645,"v":0.18},{"s":"26.0 bar","T":1.650,"v":0.12},{"s":"26.0 bar","T":1.660,"v":0.15},{"s":"26.0 bar","T":1.670,"v":0.10},{"s":"26.0 bar","T":1.680,"v":0.08},{"s":"26.0 bar","T":1.690,"v":0.11},{"s":"26.0 bar","T":1.700,"v":0.07},{"s":"26.0 bar","T":1.710,"v":0.05},{"s":"26.0 bar","T":1.720,"v":0.03},{"s":"26.0 bar","T":1.730,"v":0.06},{"s":"26.0 bar","T":1.740,"v":0.02},{"s":"26.0 bar","T":1.750,"v":0.00},{"s":"26.0 bar","T":1.760,"v":-0.08},{"s":"26.0 bar","T":1.765,"v":-0.05},{"s":"26.0 bar","T":1.770,"v":0.01},{"s":"26.0 bar","T":1.780,"v":-0.02},{"s":"26.0 bar","T":1.790,"v":0.03},{"s":"26.0 bar","T":1.800,"v":0.00},{"s":"26.0 bar","T":1.810,"v":0.02},{"s":"26.0 bar","T":1.820,"v":-0.01},{"s":"26.0 bar","T":1.830,"v":0.04},{"s":"26.0 bar","T":1.840,"v":0.00},{"s":"26.0 bar","T":1.850,"v":0.02},{"s":"26.0 bar","T":1.860,"v":-0.03},{"s":"26.0 bar","T":1.870,"v":0.01},{"s":"26.0 bar","T":1.880,"v":0.03},{"s":"26.0 bar","T":1.890,"v":-0.02},{"s":"26.0 bar","T":1.900,"v":0.00},{"s":"26.0 bar","T":1.910,"v":0.02},{"s":"26.0 bar","T":1.920,"v":0.04},{"s":"26.0 bar","T":1.930,"v":-0.03},{"s":"26.0 bar","T":1.940,"v":0.01},{"s":"26.0 bar","T":1.950,"v":0.00},{"s":"26.0 bar","T":1.960,"v":0.03},{"s":"26.0 bar","T":1.970,"v":0.01},{"s":"26.0 bar","T":1.980,"v":0.04},{"s":"26.0 bar","T":1.990,"v":0.05},
{"s":"22.1 bar","T":1.003,"v":2.08},{"s":"22.1 bar","T":1.006,"v":2.05},{"s":"22.1 bar","T":1.010,"v":2.10},{"s":"22.1 bar","T":1.013,"v":2.07},{"s":"22.1 bar","T":1.016,"v":2.04},{"s":"22.1 bar","T":1.020,"v":2.09},{"s":"22.1 bar","T":1.023,"v":2.06},{"s":"22.1 bar","T":1.026,"v":2.02},{"s":"22.1 bar","T":1.030,"v":2.08},{"s":"22.1 bar","T":1.033,"v":2.04},{"s":"22.1 bar","T":1.036,"v":2.00},{"s":"22.1 bar","T":1.040,"v":2.05},{"s":"22.1 bar","T":1.043,"v":1.98},{"s":"22.1 bar","T":1.046,"v":2.01},{"s":"22.1 bar","T":1.050,"v":1.95},{"s":"22.1 bar","T":1.053,"v":1.99},{"s":"22.1 bar","T":1.056,"v":1.93},{"s":"22.1 bar","T":1.060,"v":1.96},{"s":"22.1 bar","T":1.063,"v":1.90},{"s":"22.1 bar","T":1.066,"v":1.93},{"s":"22.1 bar","T":1.070,"v":1.88},{"s":"22.1 bar","T":1.073,"v":1.91},{"s":"22.1 bar","T":1.076,"v":1.86},{"s":"22.1 bar","T":1.080,"v":1.89},{"s":"22.1 bar","T":1.083,"v":1.84},{"s":"22.1 bar","T":1.086,"v":1.82},{"s":"22.1 bar","T":1.090,"v":1.85},{"s":"22.1 bar","T":1.093,"v":1.80},{"s":"22.1 bar","T":1.096,"v":1.83},{"s":"22.1 bar","T":1.100,"v":1.78},{"s":"22.1 bar","T":1.105,"v":1.80},{"s":"22.1 bar","T":1.110,"v":1.74},{"s":"22.1 bar","T":1.115,"v":1.77},{"s":"22.1 bar","T":1.120,"v":1.70},{"s":"22.1 bar","T":1.125,"v":1.72},{"s":"22.1 bar","T":1.130,"v":1.67},{"s":"22.1 bar","T":1.135,"v":1.64},{"s":"22.1 bar","T":1.140,"v":1.68},{"s":"22.1 bar","T":1.145,"v":1.60},{"s":"22.1 bar","T":1.150,"v":1.63},{"s":"22.1 bar","T":1.155,"v":1.57},{"s":"22.1 bar","T":1.160,"v":1.54},{"s":"22.1 bar","T":1.165,"v":1.58},{"s":"22.1 bar","T":1.170,"v":1.51},{"s":"22.1 bar","T":1.175,"v":1.62},{"s":"22.1 bar","T":1.180,"v":1.48},{"s":"22.1 bar","T":1.185,"v":1.52},{"s":"22.1 bar","T":1.190,"v":1.44},{"s":"22.1 bar","T":1.195,"v":1.38},{"s":"22.1 bar","T":1.200,"v":1.33},{"s":"22.1 bar","T":1.205,"v":1.36},{"s":"22.1 bar","T":1.210,"v":1.29},{"s":"22.1 bar","T":1.215,"v":1.31},{"s":"22.1 bar","T":1.220,"v":1.25},{"s":"22.1 bar","T":1.225,"v":1.19},{"s":"22.1 bar","T":1.230,"v":1.22},{"s":"22.1 bar","T":1.235,"v":1.14},{"s":"22.1 bar","T":1.240,"v":1.17},{"s":"22.1 bar","T":1.245,"v":1.11},{"s":"22.1 bar","T":1.250,"v":1.08},{"s":"22.1 bar","T":1.255,"v":1.05},{"s":"22.1 bar","T":1.260,"v":1.00},{"s":"22.1 bar","T":1.265,"v":0.96},{"s":"22.1 bar","T":1.270,"v":0.92},{"s":"22.1 bar","T":1.275,"v":0.86},{"s":"22.1 bar","T":1.280,"v":0.77},{"s":"22.1 bar","T":1.283,"v":0.70},{"s":"22.1 bar","T":1.286,"v":0.60},{"s":"22.1 bar","T":1.289,"v":0.50},{"s":"22.1 bar","T":1.292,"v":0.40},{"s":"22.1 bar","T":1.295,"v":0.29},{"s":"22.1 bar","T":1.298,"v":0.22},{"s":"22.1 bar","T":1.301,"v":0.14},{"s":"22.1 bar","T":1.305,"v":0.10},{"s":"22.1 bar","T":1.310,"v":0.08},{"s":"22.1 bar","T":1.315,"v":0.11},{"s":"22.1 bar","T":1.320,"v":0.06},{"s":"22.1 bar","T":1.325,"v":0.09},{"s":"22.1 bar","T":1.330,"v":0.12},{"s":"22.1 bar","T":1.335,"v":0.07},{"s":"22.1 bar","T":1.340,"v":0.10},{"s":"22.1 bar","T":1.345,"v":0.13},{"s":"22.1 bar","T":1.350,"v":0.08},{"s":"22.1 bar","T":1.355,"v":0.15},{"s":"22.1 bar","T":1.360,"v":0.11},{"s":"22.1 bar","T":1.365,"v":0.17},{"s":"22.1 bar","T":1.370,"v":0.13},{"s":"22.1 bar","T":1.375,"v":0.19},{"s":"22.1 bar","T":1.380,"v":0.15},{"s":"22.1 bar","T":1.385,"v":0.20},{"s":"22.1 bar","T":1.390,"v":0.14},{"s":"22.1 bar","T":1.395,"v":0.18},{"s":"22.1 bar","T":1.400,"v":0.21},{"s":"22.1 bar","T":1.405,"v":0.16},{"s":"22.1 bar","T":1.410,"v":0.20},{"s":"22.1 bar","T":1.415,"v":0.23},{"s":"22.1 bar","T":1.420,"v":0.18},{"s":"22.1 bar","T":1.425,"v":0.21},{"s":"22.1 bar","T":1.430,"v":0.17},{"s":"22.1 bar","T":1.435,"v":0.22},{"s":"22.1 bar","T":1.440,"v":0.19},{"s":"22.1 bar","T":1.445,"v":0.20},{"s":"22.1 bar","T":1.450,"v":0.16},{"s":"22.1 bar","T":1.455,"v":0.19},{"s":"22.1 bar","T":1.460,"v":0.14},{"s":"22.1 bar","T":1.465,"v":0.17},{"s":"22.1 bar","T":1.470,"v":0.12},{"s":"22.1 bar","T":1.475,"v":0.15},{"s":"22.1 bar","T":1.480,"v":0.10},{"s":"22.1 bar","T":1.490,"v":0.13},{"s":"22.1 bar","T":1.500,"v":0.08},{"s":"22.1 bar","T":1.510,"v":0.11},{"s":"22.1 bar","T":1.520,"v":0.06},{"s":"22.1 bar","T":1.530,"v":0.09},{"s":"22.1 bar","T":1.540,"v":0.04},{"s":"22.1 bar","T":1.550,"v":0.07},{"s":"22.1 bar","T":1.560,"v":0.02},{"s":"22.1 bar","T":1.570,"v":0.05},{"s":"22.1 bar","T":1.580,"v":0.00},{"s":"22.1 bar","T":1.590,"v":0.04},{"s":"22.1 bar","T":1.600,"v":-0.02},{"s":"22.1 bar","T":1.610,"v":0.03},{"s":"22.1 bar","T":1.620,"v":0.01},{"s":"22.1 bar","T":1.630,"v":-0.03},{"s":"22.1 bar","T":1.640,"v":0.02},{"s":"22.1 bar","T":1.650,"v":0.00},{"s":"22.1 bar","T":1.660,"v":0.04},{"s":"22.1 bar","T":1.670,"v":-0.02},{"s":"22.1 bar","T":1.680,"v":0.01},{"s":"22.1 bar","T":1.690,"v":0.03},{"s":"22.1 bar","T":1.700,"v":-0.01},{"s":"22.1 bar","T":1.710,"v":0.02},{"s":"22.1 bar","T":1.720,"v":0.00},{"s":"22.1 bar","T":1.730,"v":-0.03},{"s":"22.1 bar","T":1.740,"v":0.01},{"s":"22.1 bar","T":1.750,"v":-0.02},{"s":"22.1 bar","T":1.760,"v":0.02},{"s":"22.1 bar","T":1.770,"v":-0.04},{"s":"22.1 bar","T":1.780,"v":0.00},{"s":"22.1 bar","T":1.790,"v":-0.03},{"s":"22.1 bar","T":1.800,"v":0.02},{"s":"22.1 bar","T":1.810,"v":-0.02},{"s":"22.1 bar","T":1.820,"v":0.01},{"s":"22.1 bar","T":1.830,"v":0.04},{"s":"22.1 bar","T":1.840,"v":-0.02},{"s":"22.1 bar","T":1.850,"v":0.03},{"s":"22.1 bar","T":1.860,"v":0.00},{"s":"22.1 bar","T":1.870,"v":-0.03},{"s":"22.1 bar","T":1.880,"v":0.02},{"s":"22.1 bar","T":1.890,"v":0.05},{"s":"22.1 bar","T":1.900,"v":0.00},{"s":"22.1 bar","T":1.910,"v":-0.02},{"s":"22.1 bar","T":1.920,"v":0.03},{"s":"22.1 bar","T":1.930,"v":-0.04},{"s":"22.1 bar","T":1.940,"v":0.01},{"s":"22.1 bar","T":1.950,"v":-0.02},{"s":"22.1 bar","T":1.960,"v":0.03},{"s":"22.1 bar","T":1.970,"v":-0.04},{"s":"22.1 bar","T":1.980,"v":0.00},{"s":"22.1 bar","T":1.990,"v":-0.02},
{"s":"18.0 bar","T":0.800,"v":0.32},{"s":"18.0 bar","T":0.803,"v":0.40},{"s":"18.0 bar","T":0.806,"v":0.28},{"s":"18.0 bar","T":0.810,"v":0.45},{"s":"18.0 bar","T":0.813,"v":0.35},{"s":"18.0 bar","T":0.816,"v":0.25},{"s":"18.0 bar","T":0.820,"v":0.38},{"s":"18.0 bar","T":0.823,"v":0.30},{"s":"18.0 bar","T":0.826,"v":0.43},{"s":"18.0 bar","T":0.830,"v":0.27},{"s":"18.0 bar","T":0.833,"v":0.36},{"s":"18.0 bar","T":0.836,"v":0.41},{"s":"18.0 bar","T":0.840,"v":0.32},{"s":"18.0 bar","T":0.843,"v":0.46},{"s":"18.0 bar","T":0.846,"v":0.38},{"s":"18.0 bar","T":0.850,"v":0.29},{"s":"18.0 bar","T":0.853,"v":0.42},{"s":"18.0 bar","T":0.856,"v":0.48},{"s":"18.0 bar","T":0.860,"v":0.35},{"s":"18.0 bar","T":0.863,"v":0.40},{"s":"18.0 bar","T":0.866,"v":0.26},{"s":"18.0 bar","T":0.870,"v":0.44},{"s":"18.0 bar","T":0.873,"v":0.38},{"s":"18.0 bar","T":0.876,"v":0.50},{"s":"18.0 bar","T":0.880,"v":0.42},{"s":"18.0 bar","T":0.883,"v":0.36},{"s":"18.0 bar","T":0.886,"v":0.46},{"s":"18.0 bar","T":0.890,"v":0.40},{"s":"18.0 bar","T":0.895,"v":0.44},{"s":"18.0 bar","T":0.900,"v":0.39},{"s":"18.0 bar","T":0.905,"v":0.47},{"s":"18.0 bar","T":0.910,"v":0.42},{"s":"18.0 bar","T":0.915,"v":0.45},{"s":"18.0 bar","T":0.920,"v":0.49},{"s":"18.0 bar","T":0.925,"v":0.41},{"s":"18.0 bar","T":0.930,"v":0.46},{"s":"18.0 bar","T":0.935,"v":0.43},{"s":"18.0 bar","T":0.940,"v":0.48},{"s":"18.0 bar","T":0.945,"v":0.40},{"s":"18.0 bar","T":0.950,"v":0.45},{"s":"18.0 bar","T":0.955,"v":0.42},{"s":"18.0 bar","T":0.960,"v":0.47},{"s":"18.0 bar","T":0.965,"v":0.39},{"s":"18.0 bar","T":0.970,"v":0.44},{"s":"18.0 bar","T":0.975,"v":0.41},{"s":"18.0 bar","T":0.980,"v":0.46},{"s":"18.0 bar","T":0.985,"v":0.38},{"s":"18.0 bar","T":0.990,"v":0.43},{"s":"18.0 bar","T":0.995,"v":0.36},{"s":"18.0 bar","T":1.000,"v":0.41},{"s":"18.0 bar","T":1.005,"v":0.37},{"s":"18.0 bar","T":1.010,"v":0.42},{"s":"18.0 bar","T":1.015,"v":0.35},{"s":"18.0 bar","T":1.020,"v":0.38},{"s":"18.0 bar","T":1.025,"v":0.31},{"s":"18.0 bar","T":1.030,"v":0.36},{"s":"18.0 bar","T":1.035,"v":0.27},{"s":"18.0 bar","T":1.040,"v":0.30},{"s":"18.0 bar","T":1.045,"v":0.21},{"s":"18.0 bar","T":1.050,"v":0.17},{"s":"18.0 bar","T":1.055,"v":0.10},{"s":"18.0 bar","T":1.060,"v":0.05},{"s":"18.0 bar","T":1.065,"v":0.01},{"s":"18.0 bar","T":1.070,"v":-0.05},{"s":"18.0 bar","T":1.073,"v":-0.10},{"s":"18.0 bar","T":1.076,"v":-0.03},{"s":"18.0 bar","T":1.080,"v":-0.17},{"s":"18.0 bar","T":1.083,"v":-0.08},{"s":"18.0 bar","T":1.086,"v":-0.12},{"s":"18.0 bar","T":1.090,"v":-0.04},{"s":"18.0 bar","T":1.095,"v":-0.06},{"s":"18.0 bar","T":1.100,"v":0.01},{"s":"18.0 bar","T":1.105,"v":-0.02},{"s":"18.0 bar","T":1.110,"v":0.03},{"s":"18.0 bar","T":1.115,"v":0.05},{"s":"18.0 bar","T":1.120,"v":0.01},{"s":"18.0 bar","T":1.125,"v":0.07},{"s":"18.0 bar","T":1.130,"v":-0.01},{"s":"18.0 bar","T":1.135,"v":0.04},{"s":"18.0 bar","T":1.140,"v":0.09},{"s":"18.0 bar","T":1.145,"v":0.06},{"s":"18.0 bar","T":1.150,"v":0.12},{"s":"18.0 bar","T":1.155,"v":0.08},{"s":"18.0 bar","T":1.160,"v":0.17},{"s":"18.0 bar","T":1.165,"v":0.13},{"s":"18.0 bar","T":1.170,"v":0.10},{"s":"18.0 bar","T":1.175,"v":0.18},{"s":"18.0 bar","T":1.180,"v":0.14},{"s":"18.0 bar","T":1.185,"v":0.11},{"s":"18.0 bar","T":1.190,"v":0.22},{"s":"18.0 bar","T":1.195,"v":0.15},{"s":"18.0 bar","T":1.200,"v":0.12},{"s":"18.0 bar","T":1.205,"v":0.18},{"s":"18.0 bar","T":1.210,"v":0.14},{"s":"18.0 bar","T":1.215,"v":0.20},{"s":"18.0 bar","T":1.220,"v":0.11},{"s":"18.0 bar","T":1.225,"v":0.17},{"s":"18.0 bar","T":1.230,"v":0.14},{"s":"18.0 bar","T":1.235,"v":0.21},{"s":"18.0 bar","T":1.240,"v":0.12},{"s":"18.0 bar","T":1.245,"v":0.16},{"s":"18.0 bar","T":1.250,"v":0.10},{"s":"18.0 bar","T":1.255,"v":0.15},{"s":"18.0 bar","T":1.260,"v":0.12},{"s":"18.0 bar","T":1.265,"v":0.09},{"s":"18.0 bar","T":1.270,"v":0.14},{"s":"18.0 bar","T":1.275,"v":0.11},{"s":"18.0 bar","T":1.280,"v":0.08},{"s":"18.0 bar","T":1.285,"v":0.13},{"s":"18.0 bar","T":1.290,"v":0.10},{"s":"18.0 bar","T":1.295,"v":0.07},{"s":"18.0 bar","T":1.300,"v":0.11},{"s":"18.0 bar","T":1.310,"v":0.08},{"s":"18.0 bar","T":1.320,"v":0.05},{"s":"18.0 bar","T":1.330,"v":0.06},{"s":"18.0 bar","T":1.340,"v":0.02},{"s":"18.0 bar","T":1.350,"v":0.03},{"s":"18.0 bar","T":1.360,"v":0.00},{"s":"18.0 bar","T":1.370,"v":-0.02},{"s":"18.0 bar","T":1.380,"v":0.01},{"s":"18.0 bar","T":1.390,"v":-0.03},{"s":"18.0 bar","T":1.400,"v":0.00},{"s":"18.0 bar","T":1.410,"v":-0.02},{"s":"18.0 bar","T":1.420,"v":0.01},{"s":"18.0 bar","T":1.430,"v":-0.03},{"s":"18.0 bar","T":1.440,"v":-0.01},{"s":"18.0 bar","T":1.450,"v":0.02},{"s":"18.0 bar","T":1.460,"v":-0.02},{"s":"18.0 bar","T":1.470,"v":-0.04},{"s":"18.0 bar","T":1.480,"v":0.00},{"s":"18.0 bar","T":1.490,"v":-0.02},{"s":"18.0 bar","T":1.500,"v":0.01},{"s":"18.0 bar","T":1.510,"v":-0.03},{"s":"18.0 bar","T":1.520,"v":0.00},{"s":"18.0 bar","T":1.530,"v":-0.02},{"s":"18.0 bar","T":1.540,"v":0.02},{"s":"18.0 bar","T":1.550,"v":-0.01},{"s":"18.0 bar","T":1.560,"v":-0.03},{"s":"18.0 bar","T":1.570,"v":0.01},{"s":"18.0 bar","T":1.580,"v":-0.02},{"s":"18.0 bar","T":1.590,"v":0.00},{"s":"18.0 bar","T":1.600,"v":0.02},{"s":"18.0 bar","T":1.610,"v":-0.01},{"s":"18.0 bar","T":1.620,"v":0.03},{"s":"18.0 bar","T":1.630,"v":0.00},{"s":"18.0 bar","T":1.640,"v":-0.02},{"s":"18.0 bar","T":1.650,"v":0.01},{"s":"18.0 bar","T":1.660,"v":-0.01},{"s":"18.0 bar","T":1.670,"v":0.02},{"s":"18.0 bar","T":1.680,"v":0.00},{"s":"18.0 bar","T":1.690,"v":-0.02},{"s":"18.0 bar","T":1.700,"v":0.01},{"s":"18.0 bar","T":1.710,"v":0.03},{"s":"18.0 bar","T":1.720,"v":-0.01},{"s":"18.0 bar","T":1.730,"v":0.02},{"s":"18.0 bar","T":1.740,"v":0.00},{"s":"18.0 bar","T":1.750,"v":0.03},{"s":"18.0 bar","T":1.760,"v":-0.01},{"s":"18.0 bar","T":1.770,"v":0.01},{"s":"18.0 bar","T":1.780,"v":0.03},{"s":"18.0 bar","T":1.790,"v":0.00},{"s":"18.0 bar","T":1.800,"v":0.02},{"s":"18.0 bar","T":1.810,"v":-0.02},{"s":"18.0 bar","T":1.820,"v":0.01},{"s":"18.0 bar","T":1.830,"v":0.03},{"s":"18.0 bar","T":1.840,"v":0.00},{"s":"18.0 bar","T":1.850,"v":0.02},{"s":"18.0 bar","T":1.860,"v":-0.01},{"s":"18.0 bar","T":1.870,"v":0.01},{"s":"18.0 bar","T":1.880,"v":0.03},{"s":"18.0 bar","T":1.890,"v":-0.02},{"s":"18.0 bar","T":1.900,"v":0.01},{"s":"18.0 bar","T":1.910,"v":0.04},{"s":"18.0 bar","T":1.920,"v":0.00},{"s":"18.0 bar","T":1.930,"v":-0.02},{"s":"18.0 bar","T":1.940,"v":0.05},{"s":"18.0 bar","T":1.950,"v":0.02},{"s":"18.0 bar","T":1.960,"v":-0.04},{"s":"18.0 bar","T":1.970,"v":0.03},{"s":"18.0 bar","T":1.980,"v":0.00},{"s":"18.0 bar","T":1.990,"v":0.04},
{"s":"14.1 bar","T":0.800,"v":-0.22},{"s":"14.1 bar","T":0.803,"v":-0.18},{"s":"14.1 bar","T":0.806,"v":-0.25},{"s":"14.1 bar","T":0.810,"v":-0.20},{"s":"14.1 bar","T":0.813,"v":-0.16},{"s":"14.1 bar","T":0.816,"v":-0.23},{"s":"14.1 bar","T":0.820,"v":-0.19},{"s":"14.1 bar","T":0.825,"v":-0.14},{"s":"14.1 bar","T":0.830,"v":-0.21},{"s":"14.1 bar","T":0.835,"v":-0.17},{"s":"14.1 bar","T":0.840,"v":-0.12},{"s":"14.1 bar","T":0.845,"v":-0.15},{"s":"14.1 bar","T":0.850,"v":-0.10},{"s":"14.1 bar","T":0.855,"v":-0.13},{"s":"14.1 bar","T":0.860,"v":-0.08},{"s":"14.1 bar","T":0.865,"v":-0.11},{"s":"14.1 bar","T":0.870,"v":-0.06},{"s":"14.1 bar","T":0.875,"v":-0.09},{"s":"14.1 bar","T":0.880,"v":-0.04},{"s":"14.1 bar","T":0.885,"v":-0.02},{"s":"14.1 bar","T":0.890,"v":0.01},{"s":"14.1 bar","T":0.895,"v":-0.01},{"s":"14.1 bar","T":0.900,"v":0.03},{"s":"14.1 bar","T":0.905,"v":0.07},{"s":"14.1 bar","T":0.910,"v":0.02},{"s":"14.1 bar","T":0.915,"v":0.05},{"s":"14.1 bar","T":0.920,"v":0.08},{"s":"14.1 bar","T":0.925,"v":0.03},{"s":"14.1 bar","T":0.930,"v":0.06},{"s":"14.1 bar","T":0.935,"v":0.02},{"s":"14.1 bar","T":0.940,"v":0.07},{"s":"14.1 bar","T":0.945,"v":0.04},{"s":"14.1 bar","T":0.950,"v":0.08},{"s":"14.1 bar","T":0.955,"v":0.05},{"s":"14.1 bar","T":0.960,"v":0.09},{"s":"14.1 bar","T":0.965,"v":0.03},{"s":"14.1 bar","T":0.970,"v":0.06},{"s":"14.1 bar","T":0.975,"v":0.02},{"s":"14.1 bar","T":0.980,"v":0.05},{"s":"14.1 bar","T":0.983,"v":-0.06},{"s":"14.1 bar","T":0.985,"v":0.07},{"s":"14.1 bar","T":0.990,"v":0.03},{"s":"14.1 bar","T":0.995,"v":0.06},{"s":"14.1 bar","T":1.000,"v":0.02},{"s":"14.1 bar","T":1.005,"v":0.04},{"s":"14.1 bar","T":1.010,"v":0.01},{"s":"14.1 bar","T":1.015,"v":0.05},{"s":"14.1 bar","T":1.020,"v":0.03},{"s":"14.1 bar","T":1.025,"v":0.06},{"s":"14.1 bar","T":1.030,"v":0.02},{"s":"14.1 bar","T":1.035,"v":0.04},{"s":"14.1 bar","T":1.040,"v":0.00},{"s":"14.1 bar","T":1.045,"v":0.03},{"s":"14.1 bar","T":1.050,"v":0.01},{"s":"14.1 bar","T":1.055,"v":0.04},{"s":"14.1 bar","T":1.060,"v":0.00},{"s":"14.1 bar","T":1.065,"v":0.02},{"s":"14.1 bar","T":1.070,"v":-0.01},{"s":"14.1 bar","T":1.075,"v":0.03},{"s":"14.1 bar","T":1.080,"v":0.00},{"s":"14.1 bar","T":1.085,"v":0.02},{"s":"14.1 bar","T":1.090,"v":-0.02},{"s":"14.1 bar","T":1.095,"v":0.01},{"s":"14.1 bar","T":1.100,"v":0.03},{"s":"14.1 bar","T":1.105,"v":0.00},{"s":"14.1 bar","T":1.110,"v":0.02},{"s":"14.1 bar","T":1.115,"v":-0.01},{"s":"14.1 bar","T":1.120,"v":0.01},{"s":"14.1 bar","T":1.125,"v":0.03},{"s":"14.1 bar","T":1.130,"v":0.00},{"s":"14.1 bar","T":1.135,"v":0.02},{"s":"14.1 bar","T":1.140,"v":0.04},{"s":"14.1 bar","T":1.145,"v":0.01},{"s":"14.1 bar","T":1.150,"v":0.03},{"s":"14.1 bar","T":1.155,"v":0.00},{"s":"14.1 bar","T":1.160,"v":0.02},{"s":"14.1 bar","T":1.165,"v":0.04},{"s":"14.1 bar","T":1.170,"v":0.01},{"s":"14.1 bar","T":1.175,"v":0.03},{"s":"14.1 bar","T":1.180,"v":0.05},{"s":"14.1 bar","T":1.185,"v":0.02},{"s":"14.1 bar","T":1.190,"v":0.04},{"s":"14.1 bar","T":1.195,"v":0.01},{"s":"14.1 bar","T":1.200,"v":0.03},{"s":"14.1 bar","T":1.205,"v":0.06},{"s":"14.1 bar","T":1.210,"v":0.02},{"s":"14.1 bar","T":1.215,"v":0.04},{"s":"14.1 bar","T":1.220,"v":0.01},{"s":"14.1 bar","T":1.225,"v":0.05},{"s":"14.1 bar","T":1.230,"v":0.03},{"s":"14.1 bar","T":1.235,"v":0.06},{"s":"14.1 bar","T":1.240,"v":0.02},{"s":"14.1 bar","T":1.245,"v":0.04},{"s":"14.1 bar","T":1.250,"v":0.07},{"s":"14.1 bar","T":1.255,"v":0.03},{"s":"14.1 bar","T":1.260,"v":0.05},{"s":"14.1 bar","T":1.265,"v":0.02},{"s":"14.1 bar","T":1.270,"v":0.06},{"s":"14.1 bar","T":1.275,"v":0.03},{"s":"14.1 bar","T":1.280,"v":0.05},{"s":"14.1 bar","T":1.285,"v":0.08},{"s":"14.1 bar","T":1.290,"v":0.04},{"s":"14.1 bar","T":1.295,"v":0.06},{"s":"14.1 bar","T":1.300,"v":0.09},{"s":"14.1 bar","T":1.310,"v":0.05},{"s":"14.1 bar","T":1.320,"v":0.08},{"s":"14.1 bar","T":1.330,"v":0.11},{"s":"14.1 bar","T":1.340,"v":0.07},{"s":"14.1 bar","T":1.350,"v":0.10},{"s":"14.1 bar","T":1.360,"v":0.13},{"s":"14.1 bar","T":1.370,"v":0.06},{"s":"14.1 bar","T":1.380,"v":0.09},{"s":"14.1 bar","T":1.390,"v":0.12},{"s":"14.1 bar","T":1.400,"v":0.08},{"s":"14.1 bar","T":1.410,"v":0.11},{"s":"14.1 bar","T":1.420,"v":0.07},{"s":"14.1 bar","T":1.430,"v":0.10},{"s":"14.1 bar","T":1.440,"v":0.13},{"s":"14.1 bar","T":1.450,"v":0.08},{"s":"14.1 bar","T":1.460,"v":0.11},{"s":"14.1 bar","T":1.470,"v":0.06},{"s":"14.1 bar","T":1.480,"v":0.09},{"s":"14.1 bar","T":1.490,"v":0.12},{"s":"14.1 bar","T":1.500,"v":0.07},{"s":"14.1 bar","T":1.510,"v":0.10},{"s":"14.1 bar","T":1.520,"v":0.05},{"s":"14.1 bar","T":1.530,"v":0.08},{"s":"14.1 bar","T":1.540,"v":0.11},{"s":"14.1 bar","T":1.550,"v":0.06},{"s":"14.1 bar","T":1.560,"v":0.09},{"s":"14.1 bar","T":1.570,"v":0.04},{"s":"14.1 bar","T":1.580,"v":0.07},{"s":"14.1 bar","T":1.590,"v":0.10},{"s":"14.1 bar","T":1.600,"v":0.05},{"s":"14.1 bar","T":1.610,"v":0.08},{"s":"14.1 bar","T":1.620,"v":0.11},{"s":"14.1 bar","T":1.630,"v":0.06},{"s":"14.1 bar","T":1.640,"v":0.09},{"s":"14.1 bar","T":1.650,"v":0.04},{"s":"14.1 bar","T":1.660,"v":0.07},{"s":"14.1 bar","T":1.670,"v":0.10},{"s":"14.1 bar","T":1.680,"v":0.05},{"s":"14.1 bar","T":1.690,"v":0.08},{"s":"14.1 bar","T":1.700,"v":0.03},{"s":"14.1 bar","T":1.710,"v":0.06},{"s":"14.1 bar","T":1.720,"v":0.02},{"s":"14.1 bar","T":1.730,"v":0.05},{"s":"14.1 bar","T":1.740,"v":0.01},{"s":"14.1 bar","T":1.750,"v":0.04},{"s":"14.1 bar","T":1.760,"v":0.02},{"s":"14.1 bar","T":1.770,"v":0.05},{"s":"14.1 bar","T":1.780,"v":0.01},{"s":"14.1 bar","T":1.790,"v":0.03},{"s":"14.1 bar","T":1.800,"v":0.00},{"s":"14.1 bar","T":1.810,"v":0.03},{"s":"14.1 bar","T":1.820,"v":0.01},{"s":"14.1 bar","T":1.830,"v":0.04},{"s":"14.1 bar","T":1.840,"v":0.02},{"s":"14.1 bar","T":1.850,"v":0.00},{"s":"14.1 bar","T":1.860,"v":0.03},{"s":"14.1 bar","T":1.870,"v":0.01},{"s":"14.1 bar","T":1.880,"v":0.04},{"s":"14.1 bar","T":1.890,"v":0.02},{"s":"14.1 bar","T":1.900,"v":0.00},{"s":"14.1 bar","T":1.910,"v":0.03},{"s":"14.1 bar","T":1.920,"v":0.01},{"s":"14.1 bar","T":1.930,"v":0.04},{"s":"14.1 bar","T":1.940,"v":0.02},{"s":"14.1 bar","T":1.950,"v":0.00},{"s":"14.1 bar","T":1.960,"v":0.03},{"s":"14.1 bar","T":1.970,"v":0.01},{"s":"14.1 bar","T":1.980,"v":0.02},{"s":"14.1 bar","T":1.990,"v":0.00}
]
},
"vconcat": [
{
  "width": 589, "height": 353,
  "layer": [
    {"data": {"name": "freq"},
     "mark": {"type": "point", "filled": false, "size": 80, "strokeWidth": 1.3, "opacity": 1},
     "encoding": {
       "x": {"field": "T", "type": "quantitative", "scale": {"domain": [0.8, 2.0], "nice": false, "zero": false}, "axis": {"values": [0.8, 1.0, 1.2, 1.4, 1.6, 1.8, 2.0], "labels": false, "title": null}},
       "y": {"field": "v", "type": "quantitative", "scale": {"domain": [-0.054, 1.008], "nice": false, "zero": false}, "axis": {"values": [0, 0.2, 0.4, 0.6, 0.8, 1.0], "labelExpr": "datum.value == 0 ? '0' : format(datum.value, '.1f')", "title": "Frequency shift (kHz)", "titleX": -64}},
       "color": {"field": "s", "type": "nominal", "scale": {"domain": ["26.0 bar", "22.1 bar", "18.0 bar", "14.1 bar"], "range": ["#e0262c", "#3b54a5", "#2f9c4b", "#6b4c9f"]}, "legend": null},
       "shape": {"field": "s", "type": "nominal", "scale": {"domain": ["26.0 bar", "22.1 bar", "18.0 bar", "14.1 bar"], "range": ["circle", "square", "triangle-up", "diamond"]}, "legend": null}
     }},
    {"data": {"values": [{}]}, "mark": {"type": "rule", "color": "#444", "strokeWidth": 1}, "encoding": {"y": {"datum": 0}}},
    {"data": {"values": [{}]}, "mark": {"type": "rule", "color": "#2f9c4b", "strokeWidth": 2.6, "strokeDash": [21, 20]}, "encoding": {"x": {"datum": 1.084}}},
    {"data": {"values": [{}]}, "mark": {"type": "rule", "color": "#3d57a6", "strokeWidth": 2.6, "strokeDash": [21, 20]}, "encoding": {"x": {"datum": 1.314}}},
    {"data": {"values": [{}]}, "mark": {"type": "rule", "color": "#dd2a30", "strokeWidth": 2.6, "strokeDash": [21, 20]}, "encoding": {"x": {"datum": 1.479}}},
    {"data": {"values": [{}]}, "mark": {"type": "text", "text": "H", "fontStyle": "italic", "font": "Lato", "fontSize": 18, "fontWeight": 300, "align": "left", "baseline": "middle", "color": "#111"}, "encoding": {"x": {"datum": 1.613}, "y": {"datum": 0.656}}},
    {"data": {"values": [{}]}, "mark": {"type": "text", "text": "= 31.1 mT", "font": "Lato", "fontSize": 18, "fontWeight": 300, "align": "left", "baseline": "middle", "color": "#111"}, "encoding": {"x": {"datum": 1.642}, "y": {"datum": 0.656}}}
  ]
},
{
  "width": 589, "height": 351,
  "layer": [
    {"data": {"name": "width"},
     "mark": {"type": "point", "filled": true, "size": 85, "opacity": 1},
     "encoding": {
       "x": {"field": "T", "type": "quantitative", "scale": {"domain": [0.8, 2.0], "nice": false, "zero": false}, "axis": {"values": [0.8, 1.0, 1.2, 1.4, 1.6, 1.8, 2.0], "format": ".1f", "labelPadding": 16, "labelFlush": false, "labelOffset": {"condition": [{"test": "datum.value >= 1.99", "value": -7}, {"test": "datum.value <= 0.81", "value": 7}], "value": 0}, "title": null}},
       "y": {"field": "v", "type": "quantitative", "scale": {"domain": [-0.5, 2.49], "nice": false, "zero": false}, "axis": {"values": [-0.5, 0, 0.5, 1.0, 1.5, 2.0], "labelExpr": "datum.value == 0 ? '0' : format(datum.value, '.1f')", "title": "Linewidth (kHz)", "titleX": -64}},
       "color": {"field": "s", "type": "nominal", "scale": {"domain": ["26.0 bar", "22.1 bar", "18.0 bar", "14.1 bar"], "range": ["#e0262c", "#3b54a5", "#2f9c4b", "#6b4c9f"]}, "legend": {"title": null, "orient": "none", "legendX": 392, "legendY": 65, "labelFontSize": 20, "labelFontWeight": 300, "labelColor": "#222", "symbolSize": 210, "symbolStrokeWidth": 0, "rowPadding": 19.5, "labelOffset": 12}},
       "shape": {"field": "s", "type": "nominal", "scale": {"domain": ["26.0 bar", "22.1 bar", "18.0 bar", "14.1 bar"], "range": ["circle", "square", "triangle-up", "diamond"]}, "legend": {"title": null, "orient": "none", "legendX": 392, "legendY": 65, "labelFontSize": 20, "labelFontWeight": 300, "labelColor": "#222", "symbolSize": 210, "symbolStrokeWidth": 0, "rowPadding": 19.5, "labelOffset": 12}}
     }},
    {"data": {"values": [{}]}, "mark": {"type": "rule", "color": "#444", "strokeWidth": 1}, "encoding": {"y": {"datum": 0}}},
    {"data": {"values": [{}]}, "mark": {"type": "rule", "color": "#2f9c4b", "strokeWidth": 2.6, "strokeDash": [21, 20]}, "encoding": {"x": {"datum": 1.084}}},
    {"data": {"values": [{}]}, "mark": {"type": "rule", "color": "#3d57a6", "strokeWidth": 2.6, "strokeDash": [21, 20]}, "encoding": {"x": {"datum": 1.314}}},
    {"data": {"values": [{}]}, "mark": {"type": "rule", "color": "#dd2a30", "strokeWidth": 2.6, "strokeDash": [21, 20]}, "encoding": {"x": {"datum": 1.479}}},
    {"data": {"values": [{}]}, "mark": {"type": "text", "text": "T", "fontStyle": "italic", "font": "Lato", "fontSize": 17, "fontWeight": 300, "align": "left", "baseline": "middle", "color": "#111"}, "encoding": {"x": {"datum": 1.293}, "y": {"datum": -0.93}}},
    {"data": {"values": [{}]}, "mark": {"type": "text", "text": "(mK)", "font": "Lato", "fontSize": 17, "fontWeight": 300, "align": "left", "baseline": "middle", "color": "#111"}, "encoding": {"x": {"datum": 1.321}, "y": {"datum": -0.93}}}
  ]
}
]
}
